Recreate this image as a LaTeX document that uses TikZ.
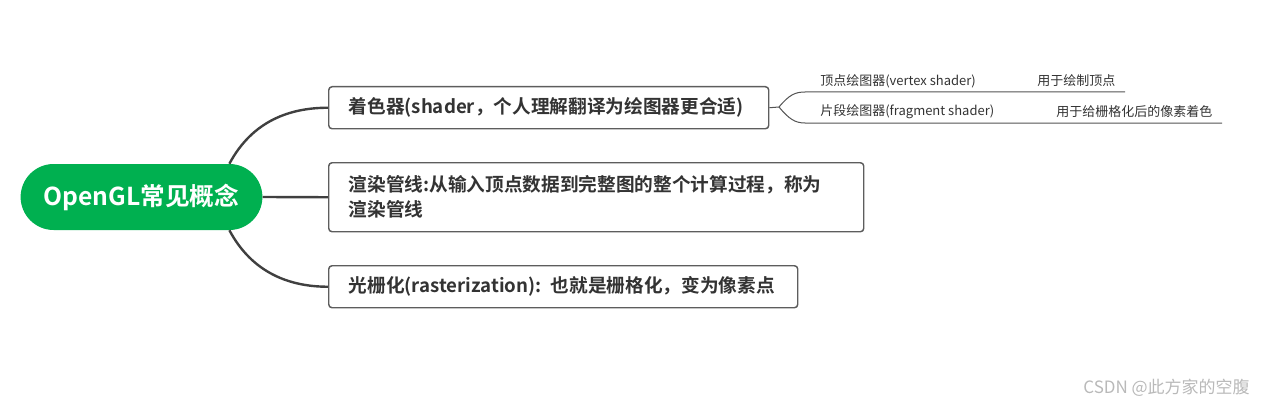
\documentclass[tikz,border=0pt]{standalone}
\usepackage{fontspec}
\setmainfont{Noto Sans CJK SC}[BoldFont={Noto Sans CJK SC Bold}]
\usetikzlibrary{shapes.misc}
\definecolor{mapgreen}{RGB}{0,176,80}
\definecolor{maptext}{RGB}{51,51,51}
\definecolor{mapline}{RGB}{64,64,64}
\tikzset{
  topic/.style={draw=mapline!85, line width=1.1pt, rounded corners=2.5pt, fill=white,
    text=maptext, font=\fontsize{14}{18.75}\selectfont\bfseries, align=left,
    anchor=north west, inner xsep=15pt, inner ysep=0pt},
  branch/.style={draw=mapline, line width=1.8pt},
  twig/.style={draw=mapline!90, line width=0.75pt},
  leaf/.style={text=maptext, font=\fontsize{9.75}{12}\selectfont, anchor=west, inner sep=0pt}
}

\begin{document}
\begin{tikzpicture}[x=0.75pt,y=-0.75pt]
\useasboundingbox (0,0) rectangle (1263,410);
\node[rounded rectangle, fill=mapgreen, text=white, minimum width=188pt, minimum height=49.5pt,
  font=\fontsize{18.5}{22}\selectfont\bfseries] (root) at (141.5,197) {OpenGL常见概念};
\node[topic, text width=300pt, minimum height=31.5pt] (shader) at (328,86)
  {着色器(shader，个人理解翻译为绘图器更合适)};
\node[topic, text width=371.25pt, minimum height=51.75pt] (pipeline) at (328,162)
  {渲染管线:从输入顶点数据到完整图的整个计算过程，称为\\渲染管线};
\node[topic, text width=321.75pt, minimum height=31.5pt] (raster) at (328,265)
  {光栅化(rasterization): 也就是栅格化，变为像素点};

\draw[branch] (root.east) -- (pipeline.west);
\draw[branch] (root.north east) .. controls +(23,-43) and +(-38,0) .. (shader.west);
\draw[branch] (root.south east) .. controls +(23,43) and +(-38,0) .. (raster.west);

\coordinate (fork) at (779,107);
\coordinate (vertexend) at (1125,92);
\coordinate (fragmentend) at (1222,123);
\draw[twig] (shader.east) -- (fork);
\draw[twig] (fork) .. controls (789,95) and (795,92) .. (805,92) -- (vertexend);
\draw[twig] (fork) .. controls (789,119) and (795,123) .. (805,123) -- (fragmentend);

\node[leaf] (vertex) at (820,81) {顶点绘图器(vertex shader)};
\node[leaf] (vertexnote) at (1037,81) {用于绘制顶点};
\node[leaf] (fragment) at (820,112) {片段绘图器(fragment shader)};
\node[leaf] (fragmentnote) at (1056,112) {用于给栅格化后的像素着色};

\node[text=gray!55, font=\fontsize{12.75}{15}\selectfont, anchor=east, inner sep=0pt] (mark)
  at (1250,388) {CSDN @此方家的空腹};
\end{tikzpicture}
\end{document}
